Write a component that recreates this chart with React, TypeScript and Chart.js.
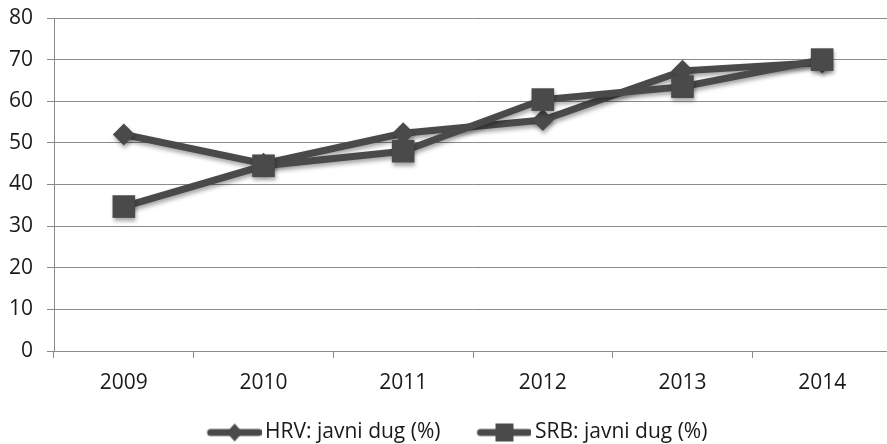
import React, { useEffect, useRef } from "react";
import { Chart, registerables } from "chart.js";

Chart.register(...registerables);

const years = ["2009", "2010", "2011", "2012", "2013", "2014"];
const hrvDebt = [52, 45, 52.3, 55.5, 67.3, 69.3];
const srbDebt = [34.7, 44.5, 48, 60.4, 63.5, 70];
const seriesNames = ["HRV: javni dug (%)", "SRB: javni dug (%)"];

const INK = "#4a4a4a";
const GRID = "#8a8a8a";
const TEXT = "#1a1a1a";
const FONT = "'Open Sans', 'Liberation Sans', Arial, sans-serif";

// legend icon: canvas wider than the legend box so the line sits right next to the text
function legendIcon(kind: "diamond" | "square"): HTMLCanvasElement {
  const c = document.createElement("canvas");
  c.width = 92;
  c.height = 24;
  const g = c.getContext("2d")!;
  g.strokeStyle = INK;
  g.fillStyle = INK;
  g.lineWidth = 7;
  g.lineCap = "round";
  g.beginPath();
  g.moveTo(41, 12);
  g.lineTo(89, 12);
  g.stroke();
  const cx = 65;
  g.beginPath();
  if (kind === "diamond") {
    g.moveTo(cx, 3);
    g.lineTo(cx + 8, 12);
    g.lineTo(cx, 21);
    g.lineTo(cx - 8, 12);
    g.closePath();
  } else {
    g.rect(cx - 9, 3, 18, 18);
  }
  g.fill();
  return c;
}

const shadowPlugin = {
  id: "shadow",
  beforeDatasetsDraw(chart: any) {
    const ctx = chart.ctx;
    ctx.save();
    ctx.shadowColor = "rgba(0,0,0,0.35)";
    ctx.shadowBlur = 4;
    ctx.shadowOffsetX = 1;
    ctx.shadowOffsetY = 3;
  },
  afterDatasetsDraw(chart: any) {
    chart.ctx.restore();
  },
};

// nudge the legend box to where the reference puts it
const legendNudge = {
  id: "legendNudge",
  afterLayout(chart: any) {
    const l = chart.legend;
    if (!l) return;
    l.top += 9;
    l.bottom += 9;
    l.left -= 4;
    l.right -= 4;
  },
};

export default function App() {
  const ref = useRef<HTMLCanvasElement | null>(null);

  useEffect(() => {
    if (!ref.current) return;
    const icons = [legendIcon("diamond"), legendIcon("square")];
    const chart = new Chart(ref.current, {
      type: "line",
      data: {
        labels: years,
        datasets: [
          {
            label: seriesNames[0],
            data: hrvDebt,
            borderColor: INK,
            backgroundColor: INK,
            borderWidth: 7,
            pointStyle: "rectRot",
            pointRadius: 11,
            pointBorderWidth: 0,
            tension: 0,
            order: 1,
          },
          {
            label: seriesNames[1],
            data: srbDebt,
            borderColor: INK,
            backgroundColor: INK,
            borderWidth: 7,
            pointStyle: "rect",
            pointRadius: 16,
            pointBorderWidth: 0,
            tension: 0,
            order: 0,
          },
        ],
      },
      options: {
        animation: false,
        responsive: true,
        maintainAspectRatio: false,
        layout: { autoPadding: false, padding: 0 },
        plugins: {
          tooltip: { enabled: false },
          legend: {
            position: "bottom",
            labels: {
              usePointStyle: true,
              pointStyleWidth: 78,
              padding: 6,
              color: TEXT,
              font: { family: FONT, size: 21 },
              generateLabels: (ch: any) =>
                ch.data.datasets.map((ds: any, i: number) => ({
                  text: ds.label,
                  pointStyle: icons[i],
                  fillStyle: INK,
                  strokeStyle: INK,
                  lineWidth: 0,
                  datasetIndex: i,
                  hidden: false,
                  fontColor: TEXT,
                })),
            },
          },
        },
        scales: {
          x: {
            offset: true,
            afterFit: (s: any) => {
              s.paddingLeft = 0;
              s.paddingRight = 0;
              s.height = 56;
            },
            grid: {
              offset: true,
              drawOnChartArea: false,
              drawTicks: true,
              tickLength: 7,
              color: GRID,
            },
            border: { color: GRID, width: 1 },
            ticks: {
              color: TEXT,
              padding: 12,
              font: { family: FONT, size: 21 },
            },
          },
          y: {
            min: 0,
            max: 80,
            afterFit: (s: any) => {
              s.width = 54;
              s.paddingTop = 18;
              s.paddingBottom = 0;
            },
            ticks: {
              stepSize: 10,
              color: TEXT,
              padding: 14,
              font: { family: FONT, size: 21 },
            },
            grid: { color: GRID, tickLength: 7, lineWidth: 1 },
            border: { color: GRID, width: 1 },
          },
        },
      },
      plugins: [shadowPlugin, legendNudge],
    });
    return () => chart.destroy();
  }, []);

  return (
    <div style={{ position: "absolute", left: 0, top: 0, width: 887, height: 444, overflow: "hidden" }}>
      <div style={{ position: "absolute", left: 0, top: 0, width: 892, height: 444 }}>
        <canvas ref={ref} />
      </div>
    </div>
  );
}
